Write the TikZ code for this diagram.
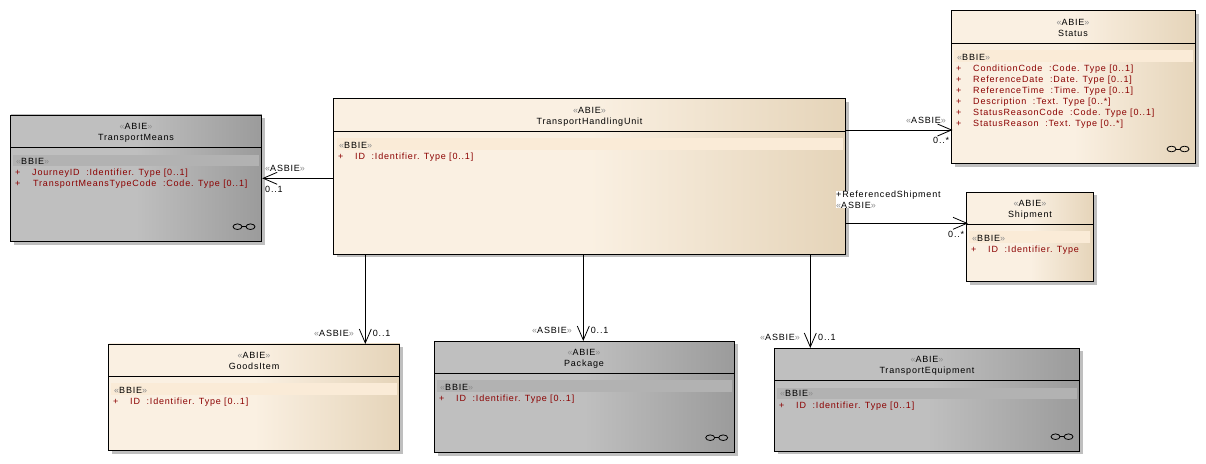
\documentclass[tikz,border=0pt]{standalone}
\usepackage{fontspec}
\setmainfont[LetterSpace=9]{Liberation Sans}
\usetikzlibrary{arrows.meta, shadows}

\definecolor{creamlight}{HTML}{FAF0E2}
\definecolor{creamdark}{HTML}{E5D4B9}
\definecolor{creambar}{HTML}{FAEBD7}
\definecolor{greylight}{HTML}{BFBFBF}
\definecolor{greydark}{HTML}{9B9B9B}
\definecolor{greybar}{HTML}{B2B2B2}
\definecolor{attrred}{HTML}{8B0000}

\newcommand{\stereo}[1]{{\color{black!45}«}#1{\color{black!45}»}}

\tikzset{
    classbox/.style={draw=black, line width=0.9pt, inner sep=0pt, anchor=north west,
        drop shadow={shadow xshift=3pt, shadow yshift=-3pt, fill=black!25, opacity=1}},
    creambox/.style={classbox, left color=creamlight, right color=creamdark, middle color=creamlight},
    greybox/.style={classbox, left color=greylight, right color=greydark, middle color=greylight},
    creamrow/.style={fill=creambar},
    greyrow/.style={fill=greybar},
    txt/.style={inner sep=0pt, font=\fontsize{9}{11}\selectfont},
    title/.style={txt, anchor=base},
    label/.style={txt, anchor=base west},
    attr/.style={txt, anchor=base west, text=attrred},
    assoc/.style={line width=0.8pt, -{Straight Barb[length=14pt, width=12pt]}},
    divider/.style={line width=0.9pt},
    links/.pic={
        \draw[line width=0.8pt] (-6.5,0) ellipse (4.5 and 2.8);
        \draw[line width=0.8pt] (6.5,0) ellipse (4.5 and 2.8);
        \draw[line width=0.8pt] (-2,0) -- (2,0);
    }
}

\newcommand{\plus}{\makebox[17pt][l]{+}}

\begin{document}
\begin{tikzpicture}[x=1pt, y=-1pt]
    \useasboundingbox (0,0) rectangle (1206,463);

    \node[greybox, minimum width=251pt, minimum height=126.7pt] (means) at (10.3,114.5) {};
    \node[creambox, minimum width=512pt, minimum height=155.7pt] (unit) at (333.3,98.3) {};
    \node[creambox, minimum width=244pt, minimum height=153pt] (status) at (951.3,10.3) {};
    \node[creambox, minimum width=127pt, minimum height=89.6pt] (shipment) at (966.3,191.7) {};
    \node[creambox, minimum width=291pt, minimum height=106.8pt] (goods) at (108.3,343.5) {};
    \node[greybox, minimum width=300pt, minimum height=111.6pt] (package) at (434.3,340.7) {};
    \node[greybox, minimum width=305pt, minimum height=103.3pt] (equipment) at (774.3,347.7) {};

    \draw[divider] (means.west |- 0,147.3) -- (means.east |- 0,147.3);
    \draw[divider] (unit.west |- 0,131.3) -- (unit.east |- 0,131.3);
    \draw[divider] (status.west |- 0,43.3) -- (status.east |- 0,43.3);
    \draw[divider] (shipment.west |- 0,224.3) -- (shipment.east |- 0,224.3);
    \draw[divider] (goods.west |- 0,376.3) -- (goods.east |- 0,376.3);
    \draw[divider] (package.west |- 0,373.3) -- (package.east |- 0,373.3);
    \draw[divider] (equipment.west |- 0,380.7) -- (equipment.east |- 0,380.7);

    \fill[greyrow] (13,154.5) rectangle (259,165.5);
    \fill[creamrow] (336.5,138) rectangle (843,150);
    \fill[creamrow] (954,50) rectangle (1193,62);
    \fill[creamrow] (969,231) rectangle (1090,243);
    \fill[creamrow] (111,383) rectangle (397,395);
    \fill[greyrow] (437,380.3) rectangle (732,392);
    \fill[greyrow] (777,387.5) rectangle (1077,399);

    \node[title] (meansstereo) at (136,129.5) {\stereo{ABIE}};
    \node[title] (meanstitle) at (136,140) {TransportMeans};
    \node[label] (meansbbie) at (16,164) {\stereo{BBIE}};
    \node[attr] (meansjourney) at (15,175.5) {\plus JourneyID \ :Identifier. Type [0..1]};
    \node[attr] (meanstype) at (15,186.5) {\plus\hspace{1pt}TransportMeansTypeCode \ :Code. Type [0..1]};

    \node[title] (unitstereo) at (589.5,113) {\stereo{ABIE}};
    \node[title] (unittitle) at (589.5,124) {TransportHandlingUnit};
    \node[label] (unitbbie) at (339,148.5) {\stereo{BBIE}};
    \node[attr] (unitid) at (338,159.5) {\plus ID \ :Identifier. Type [0..1]};

    \node[title] (statusstereo) at (1073,25.5) {\stereo{ABIE}};
    \node[title] (statustitle) at (1073,36) {Status};
    \node[label] (statusbbie) at (957,60) {\stereo{BBIE}};
    \node[attr] (statuscondition) at (956,71.5) {\plus ConditionCode \ :Code. Type [0..1]};
    \node[attr] (statusdate) at (956,82.5) {\plus ReferenceDate \ :Date. Type [0..1]};
    \node[attr] (statustime) at (956,93.5) {\plus ReferenceTime \ :Time. Type [0..1]};
    \node[attr] (statusdescription) at (956,104.5) {\plus Description \ :Text. Type [0..*]};
    \node[attr] (statuscode) at (956,115.5) {\plus StatusReasonCode \ :Code. Type [0..1]};
    \node[attr] (statusreason) at (956,126.5) {\plus StatusReason \ :Text. Type [0..*]};

    \node[title] (shipmentstereo) at (1030,206) {\stereo{ABIE}};
    \node[title] (shipmenttitle) at (1030,217) {Shipment};
    \node[label] (shipmentbbie) at (972,241.5) {\stereo{BBIE}};
    \node[attr] (shipmentid) at (971,252.5) {\plus ID \ :Identifier. Type};

    \node[title] (goodsstereo) at (254,358.5) {\stereo{ABIE}};
    \node[title] (goodstitle) at (254,369.5) {GoodsItem};
    \node[label] (goodsbbie) at (114,393.5) {\stereo{BBIE}};
    \node[attr] (goodsid) at (113,404) {\plus ID \ :Identifier. Type [0..1]};

    \node[title] (packagestereo) at (584,355.5) {\stereo{ABIE}};
    \node[title] (packagetitle) at (584,366) {Package};
    \node[label] (packagebbie) at (440,390.5) {\stereo{BBIE}};
    \node[attr] (packageid) at (439,401.5) {\plus ID \ :Identifier. Type [0..1]};

    \node[title] (equipmentstereo) at (927,362.5) {\stereo{ABIE}};
    \node[title] (equipmenttitle) at (927,373.5) {TransportEquipment};
    \node[label] (equipmentbbie) at (780,396.5) {\stereo{BBIE}};
    \node[attr] (equipmentid) at (779,408.5) {\plus ID \ :Identifier. Type [0..1]};

    \pic at (244,226.7) {links};
    \pic at (1178,149) {links};
    \pic at (716.7,437.7) {links};
    \pic at (1062,436.7) {links};

    \coordinate (statusin) at (952.5,130);
    \coordinate (shipmentin) at (968,223.3);
    \coordinate (goodsin) at (365.3,344);
    \coordinate (packagein) at (583.3,341);
    \coordinate (equipmentin) at (810.3,348);

    \draw[assoc] (unit.west |- means.east) -- (means.east);
    \draw[assoc] (unit.east |- statusin) -- (statusin);
    \draw[assoc] (unit.east |- shipmentin) -- (shipmentin);
    \draw[assoc] (unit.south -| goodsin) -- (goodsin);
    \draw[assoc] (unit.south -| packagein) -- (packagein);
    \draw[assoc] (unit.south -| equipmentin) -- (equipmentin);

    \node[label] (meansasbie) at (265,171) {\stereo{ASBIE}};
    \node[label] (meansmult) at (265,192) {0..1};
    \node[label] (statusasbie) at (906,123.5) {\stereo{ASBIE}};
    \node[label] (statusmult) at (933,143.5) {0..*};
    \node[txt, anchor=north west, fill=white, align=left] (shipmentrole) at (836,190.5) {+ReferencedShipment\\\stereo{ASBIE}};
    \node[label] (shipmentmult) at (948,237.5) {0..*};
    \node[label] (goodsasbie) at (314,336) {\stereo{ASBIE}};
    \node[label] (goodsmult) at (372.7,336) {0..1};
    \node[label] (packageasbie) at (532,333) {\stereo{ASBIE}};
    \node[label] (packagemult) at (590.7,333) {0..1};
    \node[label] (equipmentasbie) at (760,340.5) {\stereo{ASBIE}};
    \node[label] (equipmentmult) at (818,340.5) {0..1};
\end{tikzpicture}
\end{document}
